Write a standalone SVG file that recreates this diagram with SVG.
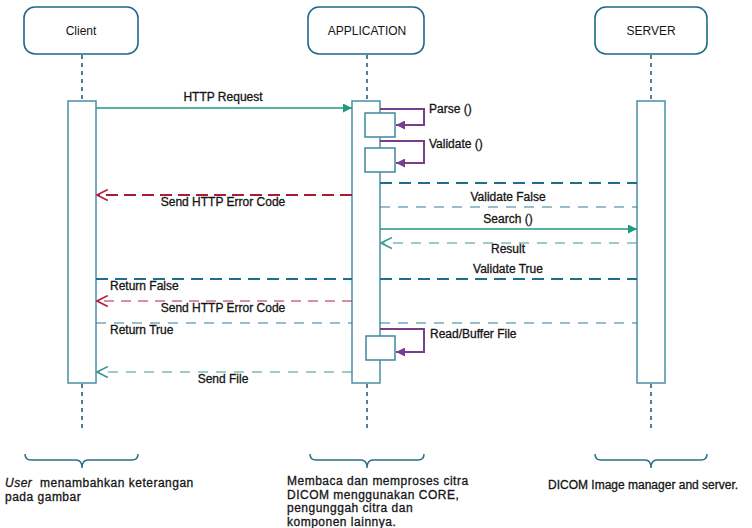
<svg xmlns="http://www.w3.org/2000/svg" width="752" height="528" viewBox="0 0 752 528">
<style>
text{font-family:"Liberation Sans",Arial,sans-serif;fill:#151515}
.hd{font-size:12px}
.lb{font-size:12px;stroke:#151515;stroke-width:0.3}
.ft{font-size:12px;stroke:#151515;stroke-width:0.3;letter-spacing:0.5px}
.ft0{font-size:12px;stroke:#151515;stroke-width:0.3}
.box{fill:#fff;stroke:#1e6a86;stroke-width:1.6}
.life{stroke:#2b5f78;stroke-width:1.6;stroke-dasharray:4 4;fill:none}
.bar{fill:#fff;stroke:#4a90a8;stroke-width:1.5}
.sub{fill:#fff;stroke:#3f86a0;stroke-width:1.5}
.solid{stroke:#1f9a80;stroke-width:1.5;fill:none}
.self{stroke:#7a3d8c;stroke-width:2;fill:none}
.red1{stroke:#a81c3a;stroke-width:2;stroke-dasharray:12 6;fill:none}
.red2{stroke:#b3203f;stroke-width:1.2;stroke-dasharray:10 7;fill:none}
.blu1{stroke:#1f6c96;stroke-width:2;stroke-dasharray:12 7;fill:none}
.blu2{stroke:#2f7fa0;stroke-width:1.2;stroke-dasharray:10 8;fill:none}
.grn{stroke:#3a9a90;stroke-width:1.2;stroke-dasharray:10 8;fill:none}
.brace{stroke:#2a6f8a;stroke-width:1.5;fill:none}
</style>
<defs>
<marker id="mFill" viewBox="0 0 10 10" refX="10" refY="5" markerWidth="12" markerHeight="9" orient="auto" markerUnits="userSpaceOnUse"><path d="M0,0 L10,5 L0,10 z" fill="#1f9a80"/></marker>
<marker id="mPurple" viewBox="0 0 10 10" refX="10" refY="5" markerWidth="12" markerHeight="9" orient="auto" markerUnits="userSpaceOnUse"><path d="M0,0 L10,5 L0,10 z" fill="#7a3d8c"/></marker>
<marker id="mRed" viewBox="0 0 12 12" refX="11" refY="6" markerWidth="13" markerHeight="13" orient="auto" markerUnits="userSpaceOnUse"><path d="M1,1 L11,6 L1,11" fill="none" stroke="#b3203f" stroke-width="1.5"/></marker>
<marker id="mGrn" viewBox="0 0 12 12" refX="11" refY="6" markerWidth="13" markerHeight="13" orient="auto" markerUnits="userSpaceOnUse"><path d="M1,1 L11,6 L1,11" fill="none" stroke="#3a9a90" stroke-width="1.5"/></marker>
</defs>
<rect width="752" height="528" fill="#fff"/>

<g id="lifelines">
<line class="life" x1="82" y1="55" x2="82" y2="100"/>
<line class="life" x1="82" y1="384" x2="82" y2="432"/>
<line class="life" x1="367" y1="55" x2="367" y2="100"/>
<line class="life" x1="367" y1="384" x2="367" y2="432"/>
<line class="life" x1="651" y1="55" x2="651" y2="100"/>
<line class="life" x1="651" y1="384" x2="651" y2="432"/>
</g>

<g id="client">
<rect class="box" x="24" y="7" width="114" height="47" rx="11"/>
<text class="hd" x="81" y="35" text-anchor="middle">Client</text>
<rect class="bar" x="68" y="101" width="28" height="282"/>
</g>
<g id="application">
<rect class="box" x="308" y="7" width="116" height="47" rx="11"/>
<text class="hd" x="367" y="35" text-anchor="middle">APPLICATION</text>
<rect class="bar" x="352" y="101" width="28" height="282"/>
<rect class="sub" x="365" y="113" width="30" height="24"/>
<rect class="sub" x="365" y="148" width="30" height="24"/>
<rect class="sub" x="366" y="336" width="29" height="24"/>
</g>
<g id="server">
<rect class="box" x="595" y="7" width="112" height="47" rx="11"/>
<text class="hd" x="651" y="35" text-anchor="middle">SERVER</text>
<rect class="bar" x="637" y="101" width="28" height="282"/>
</g>

<g id="connectors">
<line class="solid" x1="96" y1="108" x2="352" y2="108" marker-end="url(#mFill)"/>
<path class="self" d="M380,109 H424 V125 H396" marker-end="url(#mPurple)"/>
<path class="self" d="M380,141 H424 V163 H396" marker-end="url(#mPurple)"/>
<line class="blu1" x1="380" y1="183" x2="637" y2="183"/>
<line class="red1" x1="352" y1="195" x2="97" y2="195" marker-end="url(#mRed)"/>
<line class="blu2" x1="380" y1="207" x2="637" y2="207"/>
<line class="solid" x1="380" y1="229" x2="637" y2="229" marker-end="url(#mFill)"/>
<line class="grn" x1="637" y1="243" x2="381" y2="243" marker-end="url(#mGrn)"/>
<line class="blu1" x1="96" y1="279" x2="352" y2="279"/>
<line class="blu1" x1="380" y1="279" x2="637" y2="279"/>
<line class="red2" x1="352" y1="301" x2="97" y2="301" marker-end="url(#mRed)"/>
<line class="blu2" x1="96" y1="323" x2="352" y2="323"/>
<line class="blu2" x1="380" y1="323" x2="637" y2="323"/>
<path class="self" d="M380,329 H424 V352 H396" marker-end="url(#mPurple)"/>
<line class="grn" x1="352" y1="372" x2="97" y2="372" marker-end="url(#mGrn)"/>
</g>

<g id="labels">
<text class="lb" x="223" y="101" text-anchor="middle">HTTP Request</text>
<text class="lb" x="429" y="113">Parse ()</text>
<text class="lb" x="429" y="148">Validate ()</text>
<text class="lb" x="223" y="206" text-anchor="middle">Send HTTP Error Code</text>
<text class="lb" x="508" y="201" text-anchor="middle">Validate False</text>
<text class="lb" x="508" y="223" text-anchor="middle">Search ()</text>
<text class="lb" x="508" y="253" text-anchor="middle">Result</text>
<text class="lb" x="508" y="273" text-anchor="middle">Validate True</text>
<text class="lb" x="110" y="290">Return False</text>
<text class="lb" x="223" y="312" text-anchor="middle">Send HTTP Error Code</text>
<text class="lb" x="110" y="334">Return True</text>
<text class="lb" x="430" y="338">Read/Buffer File</text>
<text class="lb" x="223" y="383" text-anchor="middle">Send File</text>
</g>

<g id="brace-client">
<path class="brace" d="M25,454 Q25,460 31,460 L76,460 Q82,460 82,468 Q82,460 88,460 L132,460 Q138,460 138,454"/>
<text class="ft" x="5" y="487" xml:space="preserve"><tspan font-style="italic">User</tspan>  menambahkan keterangan</text>
<text class="ft" x="5" y="501">pada gambar</text>
</g>
<g id="brace-application">
<path class="brace" d="M310,454 Q310,460 316,460 L361,460 Q367,460 367,468 Q367,460 373,460 L418,460 Q424,460 424,454"/>
<text class="ft" x="287" y="485">Membaca dan memproses citra</text>
<text class="ft" x="287" y="498.5">DICOM menggunakan CORE,</text>
<text class="ft" x="287" y="512">pengunggah citra dan</text>
<text class="ft" x="287" y="525.5">komponen lainnya.</text>
</g>
<g id="brace-server">
<path class="brace" d="M595,454 Q595,460 601,460 L645,460 Q651,460 651,468 Q651,460 657,460 L701,460 Q707,460 707,454"/>
<text class="ft0" x="548" y="489">DICOM Image manager and server.</text>
</g>
</svg>
